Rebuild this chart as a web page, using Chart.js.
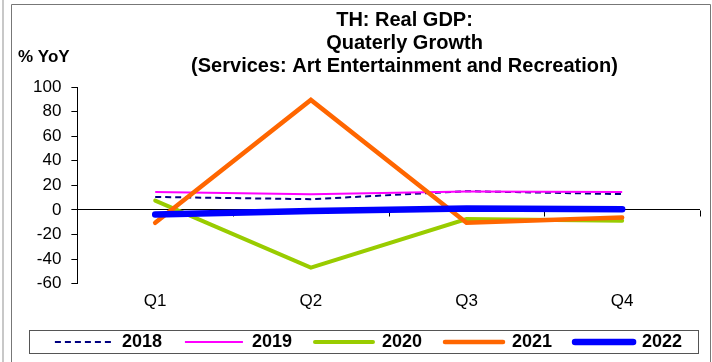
<!DOCTYPE html>
<html>
<head>
<meta charset="utf-8">
<script src="https://cdn.jsdelivr.net/npm/chart.js@4.4.1/dist/chart.umd.min.js"></script>
<style>
  html, body { margin: 0; padding: 0; background: #fff; }
  #wrap { width: 712px; height: 362px; }
</style>
</head>
<body>
<div id="wrap"><canvas id="myChart" width="712" height="362"></canvas></div>
<script>
// values (% YoY)
var quarters = ["Q1", "Q2", "Q3", "Q4"];
var y2018 = [10.5, 8.7, 15.2, 12.8];
var y2019 = [14.5, 12.8, 15.0, 14.5];
var y2020 = [7.5, -47, -7.5, -8.8];
var y2021 = [-10.5, 89.5, -10.4, -6.3];
var y2022 = [-3.7, -1.0, 1.2, 0.5];
var yMin = -60, yMax = 100, yStep = 20;

var fontName = "'Liberation Sans', Arial, sans-serif";

// frame, "% YoY" label, zero axis ticks and legend box
var decor = {
  id: 'decor',
  afterLayout: function (chart) {
    // title and legend sit a little right of the canvas middle
    chart.titleBlock.left += 86;
    chart.legend.left += 7;
    chart.legend.right += 7;
  },
  beforeDraw: function (chart) {
    var ctx = chart.ctx;
    ctx.save();
    ctx.fillStyle = '#fff';
    ctx.fillRect(0, 0, chart.width, chart.height);
    ctx.strokeStyle = '#c8c8c8';
    ctx.lineWidth = 2;
    ctx.beginPath();
    ctx.moveTo(3, 0); ctx.lineTo(3, chart.height);
    ctx.stroke();
    ctx.strokeStyle = '#777';
    ctx.lineWidth = 1;
    ctx.beginPath();
    ctx.moveTo(11.5, chart.height); ctx.lineTo(11.5, 4.5);
    ctx.lineTo(710.5, 4.5); ctx.lineTo(710.5, chart.height);
    ctx.stroke();
    ctx.fillStyle = '#000';
    ctx.font = 'bold 17px ' + fontName;
    ctx.textBaseline = 'middle';
    ctx.fillText('% YoY', 18, 57);
    ctx.restore();
  },
  beforeDatasetsDraw: function (chart) {
    var ctx = chart.ctx, x = chart.scales.x, y = chart.scales.y;
    var y0 = Math.round(y.getPixelForValue(0)) + 0.5;
    ctx.save();
    ctx.strokeStyle = '#000';
    ctx.lineWidth = 1;
    ctx.beginPath();
    for (var i = 0; i < quarters.length; i++) {
      var px = i < quarters.length - 1
        ? (x.getPixelForValue(i) + x.getPixelForValue(i + 1)) / 2
        : chart.chartArea.right;
      px = Math.round(px) + 0.5;
      ctx.moveTo(px, y0); ctx.lineTo(px, y0 + 6);
    }
    ctx.stroke();
    ctx.restore();
  },
  afterDraw: function (chart) {
    var hb = chart.legend.legendHitBoxes;
    if (!hb || !hb.length) return;
    var cy = hb[0].top + hb[0].height / 2;
    var ctx = chart.ctx;
    ctx.save();
    ctx.strokeStyle = '#555';
    ctx.lineWidth = 1;
    ctx.strokeRect(29.5, Math.round(cy - 12) + 0.5, 669, 23);
    ctx.restore();
  }
};

new Chart(document.getElementById("myChart"), {
  type: 'line',
  data: {
    labels: quarters,
    datasets: [
      {
        label: "2018",
        data: y2018,
        borderColor: "#000080",
        borderWidth: 2,
        borderDash: [6, 4],
        order: 5
      }, {
        label: "2019",
        data: y2019,
        borderColor: "#FF00FF",
        borderWidth: 2,
        order: 4
      }, {
        label: "2020",
        data: y2020,
        borderColor: "#99CC00",
        borderWidth: 4,
        borderCapStyle: 'round',
        order: 3
      }, {
        label: "2021",
        data: y2021,
        borderColor: "#FF6600",
        borderWidth: 4.5,
        borderCapStyle: 'round',
        order: 2
      }, {
        label: "2022",
        data: y2022,
        borderColor: "#0000FF",
        borderWidth: 6.5,
        borderCapStyle: 'round',
        order: 1
      }
    ]
  },
  options: {
    responsive: false,
    animation: false,
    events: [],
    elements: { point: { radius: 0, hoverRadius: 0 }, line: { tension: 0, fill: false } },
    layout: { padding: { left: 23, right: 12, top: 0, bottom: 1 } },
    scales: {
      x: {
        offset: true,
        grid: { display: false, drawTicks: false },
        border: { display: false },
        ticks: { color: '#000', font: { family: fontName, size: 17 }, padding: 8 },
        afterFit: function (axis) { axis.height -= 10; }
      },
      y: {
        min: yMin,
        max: yMax,
        border: { display: true, color: '#000', width: 1 },
        grid: {
          color: function (c) { return c.tick && c.tick.value === 0 ? '#000' : 'rgba(0,0,0,0)'; },
          tickColor: '#000',
          tickLength: 6,
          lineWidth: 1
        },
        ticks: {
          stepSize: yStep,
          autoSkip: false,
          color: '#000',
          font: { family: fontName, size: 17 },
          padding: 10
        }
      }
    },
    plugins: {
      title: {
        display: true,
        text: ["TH: Real GDP:", "Quaterly Growth", "(Services: Art Entertainment and Recreation)"],
        color: '#000',
        font: { family: fontName, size: 20, weight: 'bold', lineHeight: 1.15 },
        padding: { top: 9, bottom: 9 }
      },
      legend: {
        position: 'bottom',
        labels: {
          color: '#000',
          font: { family: fontName, size: 18, weight: 'bold' },
          usePointStyle: true,
          pointStyle: 'line',
          pointStyleWidth: 58,
          padding: 23,
          sort: function (a, b) { return a.datasetIndex - b.datasetIndex; },
          generateLabels: function (chart) {
            var items = Chart.defaults.plugins.legend.labels.generateLabels(chart);
            items.forEach(function (it) {
              var ds = chart.data.datasets[it.datasetIndex];
              it.lineDash = ds.borderDash || [];
              it.lineWidth = ds.borderWidth;
              it.lineCap = ds.borderCapStyle || 'butt';
              it.strokeStyle = ds.borderColor;
              it.pointStyle = 'line';
            });
            return items;
          }
        }
      },
      tooltip: { enabled: false }
    }
  },
  plugins: [decor]
});
</script>
</body>
</html>
